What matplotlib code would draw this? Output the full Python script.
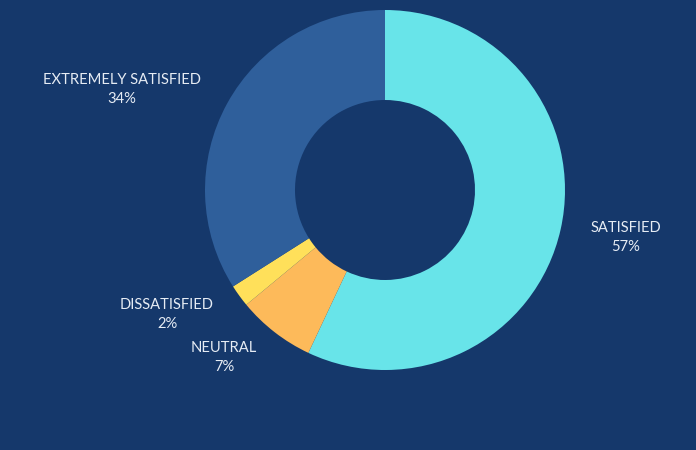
import matplotlib
matplotlib.use("Agg")
import matplotlib.pyplot as plt

categories = ["SATISFIED", "NEUTRAL", "DISSATISFIED", "EXTREMELY SATISFIED"]
values = [57, 7, 2, 34]
colors = ["#68E4E9", "#FDBA5A", "#FFE05A", "#2F5F9B"]
bg = "#15386B"

W, H = 696, 450
fig = plt.figure(figsize=(W / 100, H / 100), dpi=100, facecolor=bg)
ax = fig.add_axes([205 / W, 80 / H, 360 / W, 360 / H])
ax.set_facecolor(bg)
ax.pie(values, colors=colors, startangle=90, counterclock=False,
       wedgeprops=dict(width=0.5, linewidth=0), radius=1.0)
ax.set_xlim(-1, 1)
ax.set_ylim(-1, 1)
ax.set_aspect("equal")
ax.axis("off")

# label positions in pixels (center x, top line y)
label_pos = {
    "SATISFIED": (626, 228),
    "NEUTRAL": (224, 348),
    "DISSATISFIED": (167, 305),
    "EXTREMELY SATISFIED": (122, 80),
}
for cat, v in zip(categories, values):
    x, y = label_pos[cat]
    fig.text(x / W, 1 - y / H, cat, ha="center", va="center",
             color="#E6ECF4", fontsize=10.6, family="Lato")
    fig.text(x / W, 1 - (y + 19) / H, f"{v}%", ha="center", va="center",
             color="#E6ECF4", fontsize=10.6, family="Lato")

fig.savefig("out.png", dpi=100, facecolor=bg)
